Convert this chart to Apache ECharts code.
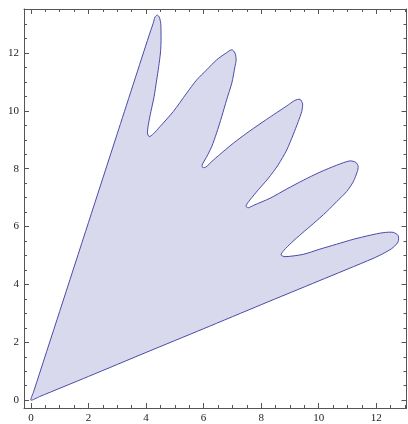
<!DOCTYPE html>
<html>
<head>
<meta charset="utf-8">
<script src="https://cdn.jsdelivr.net/npm/echarts@6/dist/echarts.min.js"></script>
<style>
  html, body { margin: 0; padding: 0; background: #fff; }
  #chart { width: 408px; height: 424px; }
</style>
</head>
<body>
<div id="chart"></div>
<script>
// outline of the filled region, in plot units
const leftEdge = [
  [0, 0], [0.1, 0.31], [1, 3.07], [2, 6.14], [3, 9.21], [4.1, 12.59], [4.25, 13.03]
];
const thumb = [
  [4.31, 13.24], [4.39, 13.31], [4.46, 13.24], [4.51, 13.03], [4.52, 12.69],
  [4.52, 12.34], [4.5, 12.0], [4.44, 11.53], [4.37, 11.07], [4.28, 10.49],
  [4.17, 9.98], [4.08, 9.52], [4.05, 9.23], [4.11, 9.11], [4.25, 9.2]
];
const finger2 = [
  [4.49, 9.46], [4.95, 9.98], [5.41, 10.61], [5.76, 11.07], [6.11, 11.42],
  [6.45, 11.76], [6.74, 11.97], [6.98, 12.11], [7.09, 12.0], [7.13, 11.76],
  [7.09, 11.53], [6.98, 10.96], [6.8, 10.38], [6.63, 9.8], [6.45, 9.23],
  [6.28, 8.76], [6.1, 8.4], [5.95, 8.13], [5.97, 8.04]
];
const finger3 = [
  [6.08, 8.06], [6.34, 8.3], [6.68, 8.59], [7.03, 8.88], [7.5, 9.23],
  [7.96, 9.55], [8.42, 9.86], [8.89, 10.17], [9.17, 10.36], [9.35, 10.4],
  [9.44, 10.24], [9.41, 9.98], [9.29, 9.63], [9.11, 9.17], [8.89, 8.65],
  [8.59, 8.13], [8.25, 7.67], [7.9, 7.27], [7.61, 6.92], [7.47, 6.71], [7.55, 6.65]
];
const finger4 = [
  [7.75, 6.74], [8.31, 6.98], [8.89, 7.3], [9.46, 7.6], [10.04, 7.88],
  [10.62, 8.12], [11.08, 8.27], [11.29, 8.22], [11.37, 8.08], [11.34, 7.9],
  [11.2, 7.55], [10.97, 7.21], [10.62, 6.86], [10.27, 6.51], [9.81, 6.1],
  [9.41, 5.76], [9.06, 5.45], [8.79, 5.18], [8.69, 5.02], [8.83, 4.96]
];
const finger5 = [
  [9.46, 5.04], [10.04, 5.22], [10.62, 5.39], [11.2, 5.56],
  [11.78, 5.7], [12.24, 5.79], [12.59, 5.8], [12.76, 5.69], [12.76, 5.48],
  [12.59, 5.28], [12.3, 5.1], [11.89, 4.9]
];
const bottomEdge = [
  [10, 4.12], [8, 3.3], [6, 2.47], [4, 1.65], [2, 0.82], [0.3, 0.124]
];

const outline = [].concat(leftEdge, thumb, finger2, finger3, finger4, finger5, bottomEdge);

const xRange = [-0.24, 13.05];
const yRange = [-0.27, 13.52];

const frameColor = "#555";
const labelFont = {
  fontFamily: "Liberation Serif",
  fontSize: 11,
  color: "#222",
};

function frameAxis(position, range, splitNumber, tickLength, withLine, withLabels) {
  return {
    type: "value",
    position: position,
    min: range[0],
    max: range[1],
    splitNumber: splitNumber,
    axisLine: { show: withLine, onZero: false, lineStyle: { color: frameColor, width: 1 } },
    axisTick: { show: true, inside: true, length: tickLength, lineStyle: { color: frameColor, width: 1 } },
    axisLabel: Object.assign(
      { show: withLabels, margin: 5, showMinLabel: false, showMaxLabel: false },
      labelFont
    ),
    splitLine: { show: false },
  };
}

const chart = echarts.init(document.getElementById("chart"), null, { renderer: "canvas" });

chart.setOption({
  animation: false,
  backgroundColor: "#fff",
  grid: { left: 24, right: 1.5, top: 9, bottom: 16 },
  xAxis: [
    frameAxis("bottom", xRange, 7, 5, true, true),
    frameAxis("bottom", xRange, 27, 3, false, false),
    frameAxis("top", xRange, 7, 5, true, false),
    frameAxis("top", xRange, 27, 3, false, false),
  ],
  yAxis: [
    frameAxis("left", yRange, 7, 5, true, true),
    frameAxis("left", yRange, 28, 3, false, false),
    frameAxis("right", yRange, 7, 5, true, false),
    frameAxis("right", yRange, 28, 3, false, false),
  ],
  series: [
    {
      type: "custom",
      xAxisIndex: 0,
      yAxisIndex: 0,
      data: outline,
      renderItem: function (params, api) {
        if (params.dataIndex !== 0) return null;
        const pts = outline.map((p) => api.coord(p));
        return {
          type: "polygon",
          shape: { points: pts, smooth: 0.25 },
          style: { fill: "#d9d9ed", stroke: "#4b4ba8", lineWidth: 1 },
        };
      },
    },
  ],
});
</script>
</body>
</html>
